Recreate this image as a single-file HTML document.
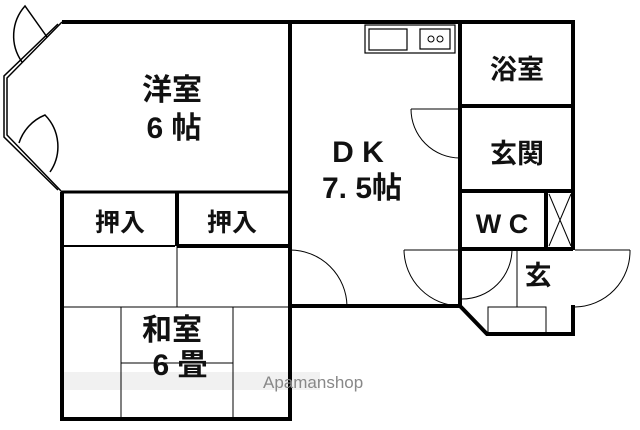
<!DOCTYPE html>
<html><head><meta charset="utf-8"><style>
html,body{margin:0;padding:0;background:#fff;width:640px;height:430px;overflow:hidden}
text{font-family:"Liberation Sans","Noto Sans CJK JP",sans-serif;fill:#111;font-weight:bold}
</style></head><body>
<svg width="640" height="430" viewBox="0 0 640 430" xmlns="http://www.w3.org/2000/svg">
<rect x="60" y="372" width="260" height="18" fill="#f1f1f1"/>
<g stroke="#000" fill="none" stroke-width="4">
<polyline points="62,22 573,22 573,250"/>
<polyline points="573,305 573,334 487,334 460,306 290,306 290,419 62,419 62,192"/>
<line x1="290" y1="22" x2="290" y2="306"/>
<line x1="460" y1="22" x2="460" y2="306"/>
<line x1="62" y1="192" x2="290" y2="192" stroke-width="3"/>
<line x1="62" y1="192" x2="62" y2="248"/>
<line x1="62" y1="246" x2="175" y2="246" stroke-width="2"/>
<line x1="177" y1="246" x2="290" y2="246" stroke-width="4"/>
<line x1="177" y1="192" x2="177" y2="246" stroke-width="4"/>
<line x1="460" y1="106" x2="573" y2="106" stroke-width="4"/>
<line x1="460" y1="191" x2="573" y2="191"/>
<line x1="460" y1="249" x2="573" y2="249"/>
<line x1="546" y1="191" x2="546" y2="249"/>
</g>
<g stroke="#000" fill="none" stroke-width="1.5">
<polyline points="62,22 7,78 7,135 62,192"/>
<polyline points="58,24 4,76 4,137 58,190"/>
<path d="M22,62 A45,45 0 0 1 25,6 L47,37"/>
<path d="M19,143 A45,45 0 0 1 45,115 A45,45 0 0 1 50,172"/>
<line x1="62" y1="307" x2="290" y2="307" stroke-width="1"/>
<line x1="177" y1="246" x2="177" y2="307" stroke-width="1"/>
<line x1="121" y1="307" x2="121" y2="419" stroke-width="1"/>
<line x1="233" y1="307" x2="233" y2="419" stroke-width="1"/>
<line x1="121" y1="363" x2="233" y2="363" stroke-width="1"/>
<path d="M290,250 A57,57 0 0 1 347,306" stroke-width="1"/>
<path d="M404,250 A57,57 0 0 0 460,306" stroke-width="1"/>
<line x1="404" y1="250" x2="460" y2="250" stroke-width="1"/>
<path d="M411,109 A49,49 0 0 0 460,158" stroke-width="1"/>
<line x1="411" y1="109" x2="460" y2="109" stroke-width="1"/>
<path d="M462,299 A50,50 0 0 0 512,249" stroke-width="1"/>
<line x1="517" y1="249" x2="517" y2="307" stroke-width="1"/>
<rect x="488" y="307" width="58" height="26" stroke-width="1"/>
<path d="M575,307 A56,56 0 0 0 630,250" stroke-width="1"/>
<line x1="575" y1="250" x2="630" y2="250" stroke-width="1"/>
<line x1="549" y1="194" x2="571" y2="246" stroke-width="1"/>
<line x1="571" y1="194" x2="549" y2="246" stroke-width="1"/>
<rect x="365" y="25" width="90" height="28" stroke-width="1.2"/>
<rect x="369" y="29" width="38" height="21" stroke-width="1.2"/>
<rect x="420" y="29" width="30" height="20" stroke-width="1.2"/>
<circle cx="431" cy="39" r="3" stroke-width="1"/><circle cx="440" cy="39" r="3" stroke-width="1"/>
</g>
<g font-size="30" text-anchor="middle">
<text x="172" y="100">洋室</text>
<text x="174" y="138">6 帖</text>
<text x="358" y="162">D K</text>
<text x="362" y="198">7. 5帖</text>
<text x="172" y="340">和室</text>
<text x="180" y="375">6 畳</text>
</g>
<g font-size="27" text-anchor="middle">
<text x="517" y="79">浴室</text>
<text x="517" y="163">玄関</text>
<text x="502" y="233">W C</text>
<text x="538" y="285">玄</text>
</g>
<g font-size="25" text-anchor="middle">
<text x="120" y="231">押入</text>
<text x="232" y="231">押入</text>
</g>
<text x="263" y="388" font-size="17" style="fill:#888;font-weight:normal">Apamanshop</text>
</svg>
</body></html>
